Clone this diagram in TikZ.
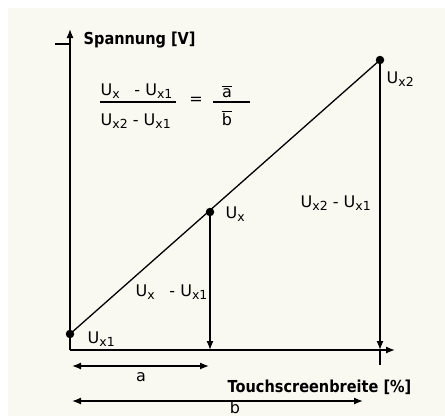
\documentclass[tikz,border=0pt]{standalone}
\usepackage{fontspec}
\setmainfont{DejaVu Sans}
\newfontfamily\ttlfont[FakeStretch=0.88]{DejaVu Sans}
\usetikzlibrary{arrows.meta}
\definecolor{bg}{HTML}{FAF9F1}
\newcommand{\Uq}[1]{U\raisebox{-0.45ex}{\fontsize{12.5}{13}\selectfont #1}}
\begin{document}
\begin{tikzpicture}[x=1pt,y=-1pt, line width=1.3pt,
  tip/.style={-{Latex[length=9pt,width=7pt]}},
  dbl/.style={{Latex[length=9pt,width=7pt]}-{Latex[length=9pt,width=7pt]}},
  lbl/.style={font=\fontsize{16}{19}\selectfont, inner sep=0pt},
  ttl/.style={font=\ttlfont\fontsize{16.5}{19}\selectfont\bfseries, inner sep=0pt},
  dot/.style={circle, fill=black, inner sep=0pt, minimum size=8.5pt}]
\useasboundingbox (0,0) rectangle (445,416);
\fill[bg] (8,8) rectangle (445,416);
% axes
\coordinate (O) at (70,350);
\coordinate (ytop) at (70,29);
\coordinate (xend) at (395,350);
\coordinate (hl) at (55,44);
\coordinate (hr) at (70,44);
\draw[tip] (O) -- (ytop);
\draw[tip] (O) -- (xend);
\draw (hl) -- (hr);
% points
\node[dot] (p1) at (70,334) {};
\node[dot] (px) at (210,212) {};
\node[dot] (p2) at (380,60) {};
\draw (p1.center) -- (p2.center);
\coordinate (fx) at (210,350);
\coordinate (f2) at (380,350);
\coordinate (tk) at (380,365);
\draw[tip] (px.center) -- (fx);
\draw[tip] (p2.center) -- (f2);
\draw (f2) -- (tk);
% dimension arrows
\coordinate (a1) at (72,366);
\coordinate (a2) at (209,366);
\coordinate (b1) at (72,401);
\coordinate (b2) at (363,401);
\draw[dbl] (a1) -- (a2);
\draw[dbl] (b1) -- (b2);
\node[lbl, anchor=base] (la) at (141,381) {a};
\node[lbl, anchor=base] (lb) at (235,413.5) {b};
% titles
\node[ttl, anchor=base west] (ty) at (83,44) {Spannung [V]};
\node[ttl, anchor=base west] (tx) at (227,392) {Touchscreenbreite [\%]};
% labels
\node[lbl, anchor=base west] (l2) at (386,83) {\Uq{x2}};
\node[lbl, anchor=base west] (lx) at (225,218) {\Uq{x}};
\node[lbl, anchor=base west] (l1) at (87,343) {\Uq{x1}};
\node[lbl, anchor=base west] (d2) at (300,207) {\Uq{x2} - \Uq{x1}};
\node[lbl, anchor=base west] (dx) at (135,296) {\Uq{x}\hspace{0.6em} - \Uq{x1}};
% formula
\node[lbl, anchor=base west] (fn) at (100,95) {\Uq{x}\hspace{0.6em} - \Uq{x1}};
\node[lbl, anchor=base west] (fd) at (100,125) {\Uq{x2} - \Uq{x1}};
\coordinate (fl1) at (100,102);
\coordinate (fl2) at (176,102);
\draw (fl1) -- (fl2);
\node[lbl] (eq) at (196,101) {=};
\node[lbl, anchor=base] (fa) at (227,97) {$\overline{\mbox{a}}$};
\node[lbl, anchor=base] (fb) at (227,125) {$\overline{\mbox{b}}$};
\coordinate (gl1) at (213,102);
\coordinate (gl2) at (250,102);
\draw (gl1) -- (gl2);
\end{tikzpicture}
\end{document}
